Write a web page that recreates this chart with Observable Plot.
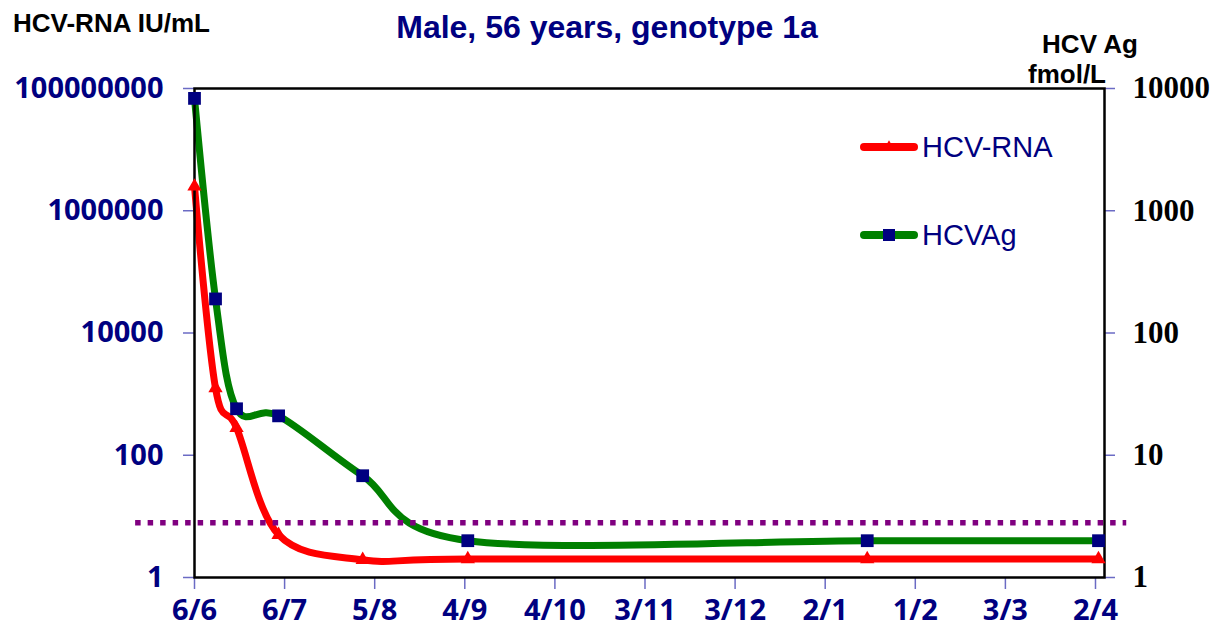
<!DOCTYPE html>
<html><head><meta charset="utf-8">
<script src="https://cdn.jsdelivr.net/npm/d3@7"></script>
<script src="https://cdn.jsdelivr.net/npm/@observablehq/plot@0.6"></script>
<style>html,body{margin:0;padding:0;background:#fff;overflow:hidden;}</style>
</head><body><div id="chart"></div>
<script>
// ---- data ----
const sampleDays = [0, 7, 14, 28, 56, 91, 224, 301];          // days after 6/6
const hcvRna = [2500000, 1250, 280, 5, 1.95, 2, 2, 2];         // IU/mL (left axis)
const hcvAg  = [8300, 190, 24, 21, 6.8, 2, 2, 2];              // fmol/L (right axis)
const tickDays = [0, 30, 60, 90, 120, 150, 180, 210, 240, 270, 300];
const tickLabels = ["6/6","6/7","5/8","4/9","4/10","3/11","3/12","2/1","1/2","3/3","2/4"];
const leftTicks = [1, 100, 10000, 1000000, 100000000];
const rightTicks = [1, 10, 100, 1000, 10000];
const agCutoff = 2.8;                 // fmol/L dotted cut-off line
const cutoffSpan = [-19.6, 310.4];    // days the dotted line spans
const dayDomain = [0, 303];
const seriesNames = ["HCV-RNA", "HCVAg"];

// right axis spans 4 decades over the same height as the left's 8 decades
const toLeft = v => v * v;
const rows = sampleDays.map((d, i) => ({day: d, rna: hcvRna[i], ag: toLeft(hcvAg[i])}));
const cutoffRow = [{x1: cutoffSpan[0], x2: cutoffSpan[1], y: toLeft(agCutoff)}];

const NAVY = "#000080", RED = "#ff0000", GREEN = "#008000", PURPLE = "#800080", TICK = "#6b6bc4";
const SANS = "'Liberation Sans', Arial, sans-serif";
const ROUND = "'Open Sans', 'DejaVu Sans', sans-serif";

const svg = Plot.plot({
  width: 1227, height: 637,
  marginLeft: 194, marginRight: 123, marginTop: 88, marginBottom: 60,
  style: {background: "#fff", overflow: "visible"},
  x: {type: "linear", domain: dayDomain},
  y: {type: "log", domain: [1, 1e8]},
  marks: [
    Plot.axisY({anchor: "left", ticks: leftTicks, tickFormat: d => String(d), label: null,
      tickSize: 11, tickPadding: 20, stroke: TICK, strokeWidth: 1.5,
      fill: NAVY, fontSize: 29, fontWeight: "bold", fontFamily: ROUND}),
    Plot.axisY({anchor: "right", ticks: rightTicks.map(toLeft), tickFormat: d => String(Math.round(Math.sqrt(d))), label: null,
      tickSize: 10, tickPadding: 18, stroke: TICK, strokeWidth: 1.5,
      fill: "#000", fontSize: 31, fontWeight: "bold", fontFamily: "'Liberation Serif', 'Times New Roman', serif"}),
    Plot.axisX({ticks: tickDays, tickFormat: d => tickLabels[tickDays.indexOf(d)], label: null,
      tickSize: 12, tickPadding: 10, stroke: TICK, strokeWidth: 1.5,
      fill: NAVY, fontSize: 29, fontWeight: "bold", fontFamily: ROUND}),
    Plot.line(rows, {x: "day", y: "ag", stroke: GREEN, strokeWidth: 7, curve: "cardinal", tension: 0}),
    Plot.line(rows, {x: "day", y: "rna", stroke: RED, strokeWidth: 7, curve: "cardinal", tension: 0}),
    Plot.ruleY(cutoffRow, {x1: "x1", x2: "x2", y: "y", stroke: PURPLE, strokeWidth: 5.5, strokeDasharray: "5.5 7", clip: false}),
    Plot.frame({stroke: "#000", strokeWidth: 2.5}),
    Plot.dot(rows, {x: "day", y: "rna", symbol: "triangle", r: 5.3, fill: RED, stroke: "none"}),
    Plot.dot(rows, {x: "day", y: "ag", symbol: "square", r: 7.2, fill: NAVY, stroke: "none"})
  ]
});
document.getElementById("chart").appendChild(svg);

// ---- titles and legend ----
const s = d3.select(svg);
function txt(x, y, str, size, color, anchor, weight, family) {
  s.append("text").attr("x", x).attr("y", y).attr("text-anchor", anchor)
    .attr("font-family", family || SANS).attr("font-size", size)
    .attr("font-weight", weight).attr("fill", color).text(str);
}
txt(13, 32, "HCV-RNA IU/mL", 26, "#000", "start", "bold");
txt(607, 38, "Male, 56 years, genotype 1a", 32, NAVY, "middle", "bold");
txt(1090, 53, "HCV Ag", 26, "#000", "middle", "bold");
txt(1067, 83, "fmol/L", 26, "#000", "middle", "bold");

const legend = [
  {name: seriesNames[0], color: RED, y: 147, sym: d3.symbolTriangle, size: 60, mfill: RED, ty: 157},
  {name: seriesNames[1], color: GREEN, y: 235, sym: d3.symbolSquare, size: 144, mfill: NAVY, ty: 245}
];
legend.forEach(l => {
  s.append("line").attr("x1", 864).attr("x2", 914).attr("y1", l.y).attr("y2", l.y)
    .attr("stroke", l.color).attr("stroke-width", 8).attr("stroke-linecap", "round");
  s.append("path").attr("d", d3.symbol(l.sym, l.size)()).attr("transform", `translate(889,${l.y})`).attr("fill", l.mfill);
  txt(922, l.ty, l.name, 29, NAVY, "start", "normal");
});
</script>
</body></html>
